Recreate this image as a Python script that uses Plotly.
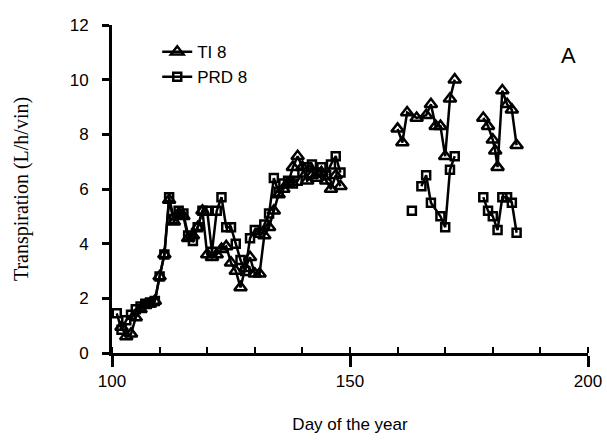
import plotly.graph_objects as go

# ---- data ----
ti_days = [102, 103, 104, 105, 106, 107, 108, 109, 110, 111, 112, 113, 114, 115, 116, 117, 118, 119, 120,
           121, 122, 123, 124, 125, 126, 127, 128, 129, 130, 131, 132, 133, 134, 135, 136, 137, 138, 139,
           140, 141, 142, 143, 144, 145, 146, 147, 148,
           None,
           160, 161, 162, 164, 166, 167, 168, 169, 170, 171, 172,
           None,
           178, 179, 180, 180.5, 181, 182, 183, 184, 185]
ti_vals = [0.95, 0.6, 0.7, 1.3, 1.6, 1.75, 1.8, 1.9, 2.8, 3.6, 5.6, 4.8, 5.1, 5.0, 4.2, 4.3, 4.6, 5.2, 3.6,
           3.5, 3.6, 3.8, 3.9, 3.3, 3.0, 2.4, 3.1, 3.5, 2.9, 2.9, 4.3, 4.6, 5.2, 5.8, 6.0, 6.2, 6.8, 7.2,
           6.8, 6.3, 6.5, 6.4, 6.6, 6.3, 6.0, 6.5, 6.1,
           None,
           8.2, 7.7, 8.8, 8.6, 8.7, 9.1, 8.3, 8.3, 7.2, 9.3, 10.0,
           None,
           8.6, 8.3, 7.8, 7.4, 6.8, 9.6, 9.1, 8.9, 7.6]

prd_days = [101, 102, 103, 104, 105, 106, 107, 108, 109, 110, 111, 112, 113, 114, 115, 116, 117, 118, 119,
            120, 121, 122, 123, 124, 125, 126, 127, 128, 129, 130, 131, 132, 133, 134, 135, 136, 137, 138,
            139, 140, 141, 142, 143, 144, 145, 146, 147, 148,
            None, 163, None,
            165, 166, 167, 169, 170, 171, 172,
            None,
            178, 179, 180, 181, 182, 183, 184, 185]
prd_vals = [1.45, 0.85, 1.2, 1.4, 1.6, 1.7, 1.8, 1.85, 1.9, 2.8, 3.6, 5.7, 4.9, 5.2, 5.1, 4.3, 4.1, 4.6, 5.2,
            5.2, 3.7, 5.2, 5.7, 4.6, 4.6, 4.0, 3.4, 3.0, 4.2, 4.5, 4.4, 4.7, 5.1, 6.4, 5.9, 6.2, 6.3, 6.2,
            6.3, 6.6, 6.8, 6.9, 6.6, 6.8, 6.5, 6.9, 7.2, 6.6,
            None, 5.2, None,
            6.1, 6.5, 5.5, 5.0, 4.6, 6.7, 7.2,
            None,
            5.7, 5.2, 5.0, 4.5, 5.7, 5.7, 5.5, 4.4]

x_range = [100, 200]
y_range = [0, 12]

fig = go.Figure()
fig.add_trace(go.Scatter(
    x=ti_days, y=ti_vals, name="TI 8", mode="lines+markers",
    line=dict(color="black", width=2.5),
    marker=dict(symbol="triangle-up-open", size=11, color="black", line=dict(width=2.5, color="black")),
    connectgaps=False))
fig.add_trace(go.Scatter(
    x=prd_days, y=prd_vals, name="PRD 8", mode="lines+markers",
    line=dict(color="black", width=2.5),
    marker=dict(symbol="square-open", size=8, color="black", line=dict(width=2.5, color="black")),
    connectgaps=False))

fig.update_layout(
    width=607, height=440,
    margin=dict(l=112, r=19, t=25, b=87),
    paper_bgcolor="white", plot_bgcolor="white",
    font=dict(family="Liberation Sans, Arial, sans-serif", color="black", size=17),
    showlegend=True,
    legend=dict(x=0.095, y=0.972, xanchor="left", yanchor="top",
                bgcolor="rgba(0,0,0,0)", font=dict(size=17), tracegroupgap=0,
                itemwidth=30),
    annotations=[dict(text="A", x=0.978, y=0.95, xref="paper", yref="paper",
                      showarrow=False, font=dict(size=22, family="Liberation Sans, Arial, sans-serif"))],
)

fig.update_xaxes(
    range=x_range, tick0=100, dtick=50, ticks="outside", ticklen=11, tickwidth=2.5,
    tickcolor="black", showline=True, linecolor="black", linewidth=3, showgrid=False,
    zeroline=False, tickfont=dict(size=17), automargin=False,
    minor=dict(dtick=10, tick0=100, ticks="inside", ticklen=6, tickwidth=2, tickcolor="black", showgrid=False),
    title=dict(text="Day of the year", font=dict(size=17), standoff=28),
)
fig.update_yaxes(
    range=y_range, tick0=0, dtick=2, ticks="outside", ticklen=7, tickwidth=2.5,
    tickcolor="black", showline=True, linecolor="black", linewidth=3, showgrid=False,
    zeroline=False, tickfont=dict(size=17), ticklabelstandoff=10, automargin=False,
    title=dict(text="Transpiration (L/h/vin)",
               font=dict(size=20, family="Liberation Serif, Times New Roman, serif"), standoff=36),
)

fig.write_html("out.html", config={"displayModeBar": False},
               post_script="document.body.style.margin='0px';")
